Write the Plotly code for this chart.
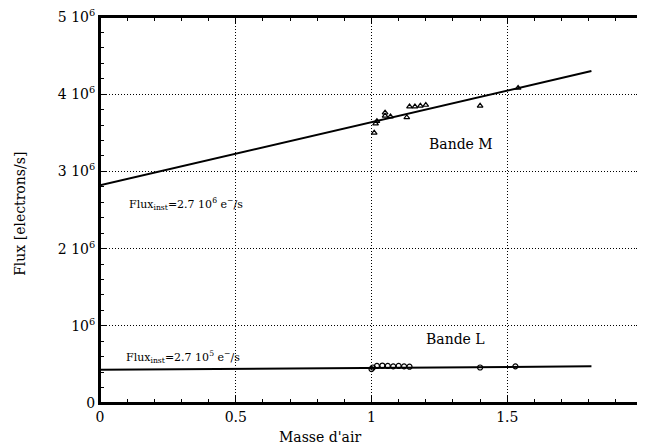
import plotly.graph_objects as go

# Bande M / Bande L fit lines and measurements (airmass, flux in e-/s)
fit_x = [0.0, 1.81]
fit_m = [2.82e6, 4.30e6]
fit_l = [0.43e6, 0.475e6]

m_x = [1.01, 1.015, 1.02, 1.05, 1.05, 1.07, 1.13, 1.14, 1.16, 1.18, 1.20, 1.40, 1.54]
m_y = [3.50e6, 3.62e6, 3.65e6, 3.76e6, 3.72e6, 3.71e6, 3.70e6, 3.84e6, 3.84e6, 3.85e6, 3.86e6, 3.85e6, 4.08e6]

l_x = [1.0, 1.005, 1.02, 1.04, 1.06, 1.08, 1.10, 1.12, 1.14, 1.40, 1.53]
l_y = [0.44e6, 0.46e6, 0.48e6, 0.485e6, 0.48e6, 0.475e6, 0.48e6, 0.475e6, 0.47e6, 0.46e6, 0.475e6]

x_ticks = [0, 0.5, 1, 1.5, 2]
x_labels = ["0", "0.5", "1", "1.5", "2"]
y_ticks = [0, 1e6, 2e6, 3e6, 4e6, 5e6]
y_labels = ["0", "10<sup>6</sup>", "2 10<sup>6</sup>", "3 10<sup>6</sup>",
            "4 10<sup>6</sup>", "5 10<sup>6</sup>"]

FONT = "DejaVu Serif"

fig = go.Figure()
fig.add_trace(go.Scatter(x=fit_x, y=fit_m, mode="lines",
                         line=dict(color="black", width=2)))
fig.add_trace(go.Scatter(x=fit_x, y=fit_l, mode="lines",
                         line=dict(color="black", width=2)))
fig.add_trace(go.Scatter(x=m_x, y=m_y, mode="markers",
                         marker=dict(symbol="triangle-up-open", size=5, color="black",
                                     line=dict(width=1.2))))
fig.add_trace(go.Scatter(x=l_x, y=l_y, mode="markers",
                         marker=dict(symbol="circle-open", size=5, color="black",
                                     line=dict(width=1.2))))

annotations = [
    dict(x=0.10, y=2.58e6, text="Flux<sub>inst</sub>=2.7 10<sup>6</sup> e<sup>−</sup>/s",
         xanchor="left", font=dict(size=11)),
    dict(x=0.09, y=0.60e6, text="Flux<sub>inst</sub>=2.7 10<sup>5</sup> e<sup>−</sup>/s",
         xanchor="left", font=dict(size=11)),
    dict(x=1.33, y=3.36e6, text="Bande M", xanchor="center", font=dict(size=14)),
    dict(x=1.31, y=0.83e6, text="Bande L", xanchor="center", font=dict(size=14)),
]
for a in annotations:
    a.update(xref="x", yref="y", showarrow=False)
# axis titles placed as annotations so the plot area stays fixed
annotations += [
    dict(x=0.405, y=0, xref="paper", yref="paper", yshift=-34, yanchor="middle",
         text="Masse d'air", showarrow=False, font=dict(size=14)),
    dict(x=0, y=0.49, xref="paper", yref="paper", xshift=-80, xanchor="center",
         text="Flux [electrons/s]", textangle=-90, showarrow=False, font=dict(size=14)),
]
for a in annotations:
    a["font"].update(family=FONT, color="black")

axis_common = dict(
    showline=True, linecolor="black", linewidth=2, mirror="ticks",
    ticks="inside", ticklen=7, tickcolor="black", tickwidth=1,
    showgrid=True, gridcolor="black", gridwidth=1, griddash="1px,2px",
    zeroline=False, automargin=False, ticklabeloverflow="allow",
    tickfont=dict(family=FONT, size=14, color="black"),
)

fig.update_xaxes(
    range=[0, 2], tickvals=x_ticks, ticktext=x_labels,
    minor=dict(dtick=0.1, ticks="inside", ticklen=4, tickcolor="black", showgrid=False),
    **axis_common,
)
fig.update_yaxes(
    range=[0, 5e6], tickvals=y_ticks, ticktext=y_labels,
    minor=dict(dtick=0.2e6, ticks="inside", ticklen=4, tickcolor="black", showgrid=False),
    **axis_common,
)

# plot frame drawn explicitly so the top/right edges always show
fig.add_shape(type="rect", xref="paper", yref="paper", x0=0, y0=0, x1=1, y1=1,
              line=dict(color="black", width=2), layer="above")

# page body adds an ~8px offset, so the figure is sized to land the plot area where the reference has it
fig.update_layout(
    width=637, height=439,
    margin=dict(l=92, r=2, t=9, b=44),
    showlegend=False,
    plot_bgcolor="white", paper_bgcolor="white",
    annotations=annotations,
)

fig.write_html("out.html")
